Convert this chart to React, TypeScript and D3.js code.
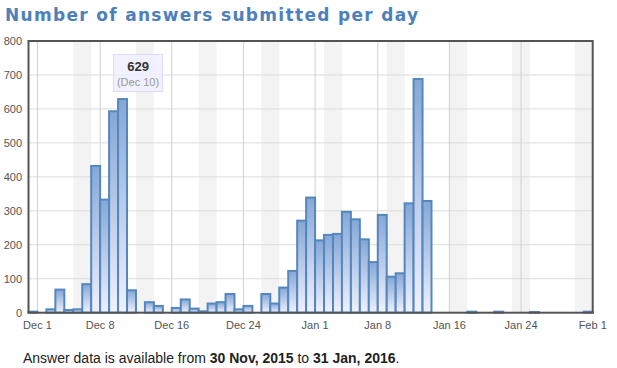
import React, { useRef, useEffect } from 'react';
import * as d3 from 'd3';

// answers per day, starting 30 Nov 2015
const startDay = '2015-11-30';
const answers = [
  3, 0, 10, 68, 8, 10, 84, 432, 333, 593, 629, 66, 0, 31, 20, 0, 14, 39, 12, 4,
  27, 31, 55, 10, 20, 0, 55, 27, 74, 123, 271, 339, 213, 229, 232, 297, 275, 216,
  149, 288, 106, 116, 322, 688, 329, 0, 0, 0, 0, 3, 0, 0, 3, 0, 0, 0, 2, 0, 0, 0,
  0, 0, 3,
];
const xTickDates = ['2015-12-01', '2015-12-08', '2015-12-16', '2015-12-24', '2016-01-01', '2016-01-08', '2016-01-16', '2016-01-24', '2016-02-01'];
const yTicks = [0, 100, 200, 300, 400, 500, 600, 700, 800];
const hoverDay = '2015-12-10';

const App: React.FC = () => {
  const svgRef = useRef<SVGSVGElement | null>(null);

  useEffect(() => {
    if (!svgRef.current) return;
    d3.select(svgRef.current).selectAll('*').remove();

    const width = 617;
    const height = 368;
    const left = 28.5, right = 592.7, top = 41, bottom = 312.7;
    const day = 86400000;
    const start = new Date(startDay + 'T00:00:00Z');

    const svg = d3.select(svgRef.current).attr('width', width).attr('height', height);

    const x = d3
      .scaleUtc()
      .domain([start, new Date('2016-02-01T00:00:00Z')])
      .range([left, right]);
    const y = d3.scaleLinear().domain([0, 800]).range([bottom, top]);

    const data = answers.map((v, i) => ({ date: new Date(start.getTime() + i * day), value: v }));

    // gradient for bars
    const grad = svg
      .append('defs')
      .append('linearGradient')
      .attr('id', 'barGrad')
      .attr('x1', 0).attr('y1', 0).attr('x2', 0).attr('y2', 1);
    grad.append('stop').attr('offset', '0%').attr('stop-color', '#85a7d6');
    grad.append('stop').attr('offset', '100%').attr('stop-color', '#f0f1fd');

    // title
    svg
      .append('text')
      .attr('x', 5)
      .attr('y', 21)
      .attr('textLength', 413)
      .attr('lengthAdjust', 'spacing')
      .style('font-family', '"DejaVu Sans", Verdana, sans-serif')
      .style('font-weight', 'bold')
      .style('font-size', '17px')
      .attr('fill', '#4d80bb')
      .text('Number of answers submitted per day');

    // weekend shading (Sat + Sun)
    const weekends = data.filter((d) => d.date.getUTCDay() === 6);
    svg
      .append('g')
      .selectAll('rect')
      .data(weekends)
      .join('rect')
      .attr('x', (d) => x(d.date))
      .attr('y', top)
      .attr('width', (d) => Math.min(x(new Date(d.date.getTime() + 2 * day)), right) - x(d.date))
      .attr('height', bottom - top)
      .attr('fill', '#f3f3f3');

    // grid
    svg
      .append('g')
      .selectAll('line')
      .data(yTicks.slice(1, -1))
      .join('line')
      .attr('x1', left).attr('x2', right)
      .attr('y1', (d) => y(d)).attr('y2', (d) => y(d))
      .attr('stroke', '#dcdcdc').attr('stroke-width', 1);
    svg
      .append('g')
      .selectAll('line')
      .data(xTickDates.slice(0, -1))
      .join('line')
      .attr('x1', (d) => x(new Date(d + 'T00:00:00Z')))
      .attr('x2', (d) => x(new Date(d + 'T00:00:00Z')))
      .attr('y1', top).attr('y2', bottom)
      .attr('stroke', '#d0d0d0').attr('stroke-width', 1);

    // bars
    svg
      .append('g')
      .selectAll('rect')
      .data(data.filter((d) => d.value > 0))
      .join('rect')
      .attr('x', (d) => x(d.date))
      .attr('y', (d) => y(d.value))
      .attr('width', (d) => x(new Date(d.date.getTime() + day)) - x(d.date))
      .attr('height', (d) => bottom - y(d.value))
      .attr('fill', 'url(#barGrad)')
      .attr('stroke', '#5587bf')
      .attr('stroke-width', 2);

    // frame
    svg
      .append('rect')
      .attr('x', left).attr('y', top)
      .attr('width', right - left).attr('height', bottom - top)
      .attr('fill', 'none')
      .attr('stroke', '#545454')
      .attr('stroke-width', 2);

    const tickFont = '"Liberation Sans", Arial, sans-serif';

    // y labels
    svg
      .append('g')
      .selectAll('text')
      .data(yTicks)
      .join('text')
      .attr('x', 22)
      .attr('y', (d) => y(d) + 4)
      .attr('text-anchor', 'end')
      .style('font-family', tickFont)
      .style('font-size', '11px')
      .attr('fill', '#545454')
      .text((d) => d);

    // x labels
    const fmt = d3.utcFormat('%b %-d');
    svg
      .append('g')
      .selectAll('text')
      .data(xTickDates)
      .join('text')
      .attr('x', (d) => x(new Date(d + 'T00:00:00Z')))
      .attr('y', 329)
      .attr('text-anchor', 'middle')
      .style('font-family', tickFont)
      .style('font-size', '11px')
      .attr('fill', '#545454')
      .text((d) => fmt(new Date(d + 'T00:00:00Z')));

    // tooltip
    const hd = new Date(hoverDay + 'T00:00:00Z');
    const hv = data.find((d) => d.date.getTime() === hd.getTime())!;
    const tx = x(hd) + 20;
    const tip = svg.append('g');
    tip
      .append('rect')
      .attr('x', tx - 24.5).attr('y', 54.5)
      .attr('width', 49).attr('height', 37)
      .attr('fill', '#eeeeff').attr('fill-opacity', 0.85)
      .attr('stroke', '#dcdcfa').attr('stroke-width', 1);
    tip
      .append('text')
      .attr('x', tx).attr('y', 71)
      .attr('text-anchor', 'middle')
      .style('font-family', tickFont)
      .style('font-weight', 'bold')
      .style('font-size', '13px')
      .attr('fill', '#333')
      .text(hv.value);
    tip
      .append('text')
      .attr('x', tx).attr('y', 86)
      .attr('text-anchor', 'middle')
      .style('font-family', tickFont)
      .style('font-size', '11px')
      .attr('fill', '#999')
      .text(`(${fmt(hd)})`);

    // footer
    const foot = svg
      .append('text')
      .attr('x', 23)
      .attr('y', 363)
      .style('font-family', tickFont)
      .style('font-size', '14px')
      .attr('fill', '#222');
    foot.append('tspan').text('Answer data is available from ');
    foot.append('tspan').style('font-weight', 'bold').text('30 Nov, 2015');
    foot.append('tspan').text(' to ');
    foot.append('tspan').style('font-weight', 'bold').text('31 Jan, 2016');
    foot.append('tspan').text('.');
  }, []);

  return (
    <svg ref={svgRef} style={{ position: 'absolute', left: 0, top: 0, background: '#fff' }}></svg>
  );
};

export default App;
